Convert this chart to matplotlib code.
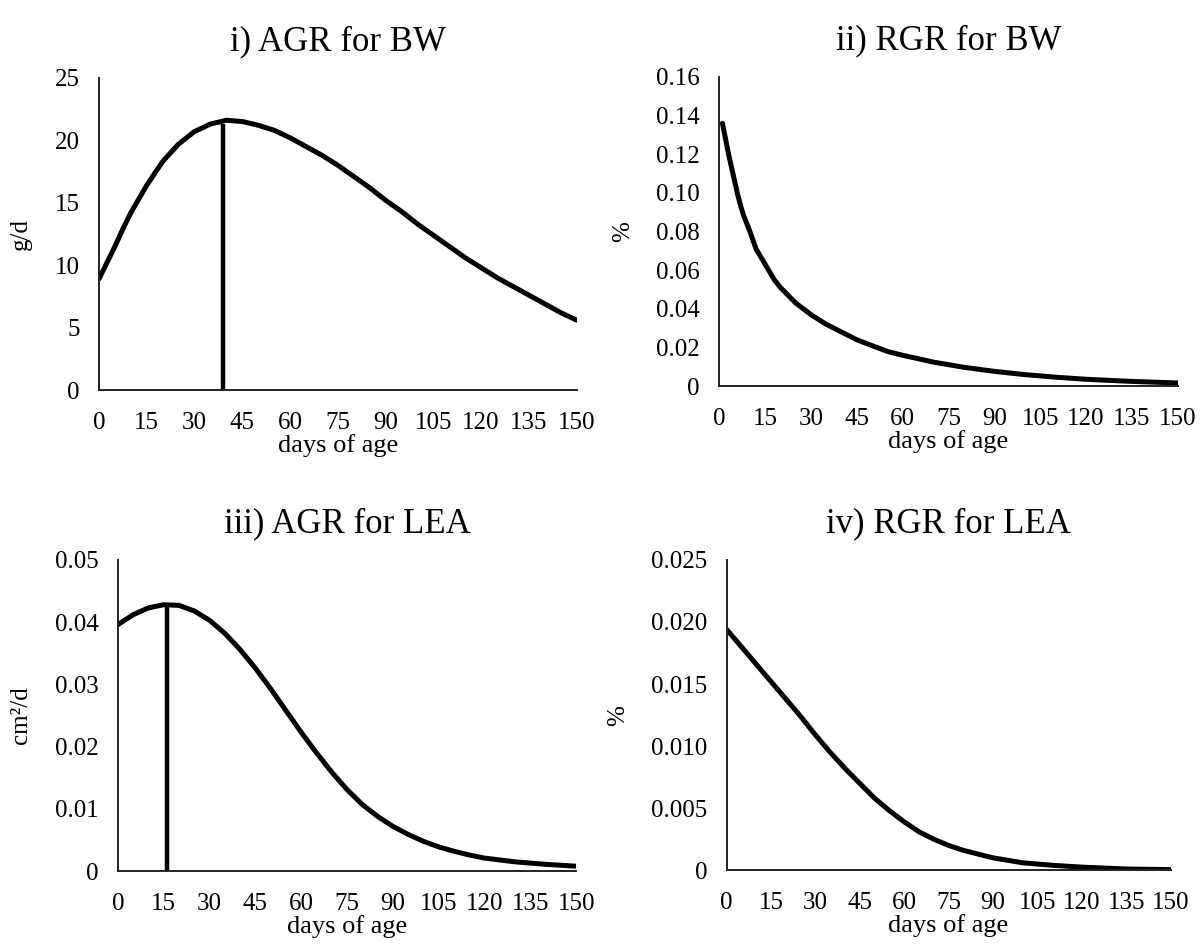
import matplotlib
matplotlib.use("Agg")
import matplotlib.pyplot as plt

plt.rcParams['font.family'] = ['Liberation Serif', 'DejaVu Serif']

# i) AGR for BW
days_agr_bw = [0, 2.5, 5, 7.5, 10, 12.5, 15, 20, 25, 30, 35, 40, 45, 50, 55, 60, 65, 70, 75, 80, 85, 90,
               95, 100, 105, 110, 115, 120, 125, 130, 135, 140, 145, 150]
agr_bw = [8.9, 10.2, 11.5, 12.9, 14.2, 15.3, 16.4, 18.3, 19.7, 20.7, 21.3, 21.6, 21.5, 21.2, 20.8, 20.2, 19.5,
          18.8, 18.0, 17.1, 16.2, 15.2, 14.3, 13.3, 12.4, 11.5, 10.6, 9.8, 9.0, 8.3, 7.6, 6.9, 6.2, 5.6]
peak_bw = (39, 21.3)

# ii) RGR for BW
days_rgr_bw = [1, 2, 3, 4, 5, 6, 7, 8, 10, 12, 15, 18, 20, 25, 30, 35, 40, 45, 50, 55, 60, 70, 80, 90,
               100, 110, 120, 135, 150]
rgr_bw = [0.136, 0.128, 0.120, 0.113, 0.106, 0.099, 0.093, 0.088, 0.080, 0.071, 0.063, 0.055, 0.051, 0.043,
          0.037, 0.032, 0.028, 0.024, 0.021, 0.018, 0.016, 0.0125, 0.0098, 0.0077, 0.0060, 0.0047, 0.0036,
          0.0025, 0.0017]

# iii) AGR for LEA
days_agr_lea = [0, 5, 10, 15, 20, 25, 30, 35, 40, 45, 50, 55, 60, 65, 70, 75, 80, 85, 90, 95, 100, 105,
                110, 115, 120, 130, 140, 150]
agr_lea = [0.0396, 0.0412, 0.0423, 0.0428, 0.0427, 0.0418, 0.0403, 0.0382, 0.0356, 0.0326, 0.0293, 0.0258,
           0.0223, 0.0190, 0.0159, 0.0131, 0.0107, 0.0088, 0.0072, 0.0059, 0.0048, 0.0039, 0.0032, 0.0026,
           0.0021, 0.0015, 0.0011, 0.0008]
peak_lea = (16, 0.0425)

# iv) RGR for LEA
days_rgr_lea = [0, 5, 10, 15, 20, 25, 30, 35, 40, 45, 50, 55, 60, 65, 70, 75, 80, 85, 90, 100, 110, 120,
                135, 150]
rgr_lea = [0.0194, 0.0180, 0.0166, 0.0152, 0.0138, 0.0124, 0.0109, 0.0095, 0.0082, 0.0070, 0.0058, 0.0048,
           0.0039, 0.0031, 0.0025, 0.0020, 0.0016, 0.0013, 0.0010, 0.0006, 0.0004, 0.00025, 0.0001, 0.00005]

xticks = [0, 15, 30, 45, 60, 75, 90, 105, 120, 135, 150]

panels = [
    dict(rect=[0.0823, 0.589, 0.397, 0.329], title='i) AGR for BW', ylabel='g/d',
         x=days_agr_bw, y=agr_bw, peak=peak_bw, ylim=25,
         yticks=[0, 5, 10, 15, 20, 25], ylabels=['0', '5', '10', '15', '20', '25']),
    dict(rect=[0.598, 0.593, 0.381, 0.326], title='ii) RGR for BW', ylabel='%',
         x=days_rgr_bw, y=rgr_bw, peak=None, ylim=0.16,
         yticks=[0, 0.02, 0.04, 0.06, 0.08, 0.10, 0.12, 0.14, 0.16],
         ylabels=['0', '0.02', '0.04', '0.06', '0.08', '0.10', '0.12', '0.14', '0.16']),
    dict(rect=[0.098, 0.082, 0.381, 0.328], title='iii) AGR for LEA', ylabel='cm²/d',
         x=days_agr_lea, y=agr_lea, peak=peak_lea, ylim=0.05,
         yticks=[0, 0.01, 0.02, 0.03, 0.04, 0.05], ylabels=['0', '0.01', '0.02', '0.03', '0.04', '0.05']),
    dict(rect=[0.604, 0.083, 0.369, 0.327], title='iv) RGR for LEA', ylabel='%',
         x=days_rgr_lea, y=rgr_lea, peak=None, ylim=0.025,
         yticks=[0, 0.005, 0.010, 0.015, 0.020, 0.025],
         ylabels=['0', '0.005', '0.010', '0.015', '0.020', '0.025']),
]

fig = plt.figure(figsize=(12.03, 9.49), dpi=100)

for p in panels:
    ax = fig.add_axes(p['rect'])
    ax.plot(p['x'], p['y'], color='black', linewidth=3.6, solid_capstyle='round', solid_joinstyle='round')
    if p['peak'] is not None:
        ax.vlines(p['peak'][0], 0, p['peak'][1], color='black', linewidth=3.2)
    ax.set_xlim(0, 150)
    ax.set_ylim(0, p['ylim'])
    ax.set_xticks(xticks)
    ax.set_xticklabels([str(t) for t in xticks], fontsize=18)
    ax.set_yticks(p['yticks'])
    ax.set_yticklabels(p['ylabels'], fontsize=18)
    ax.tick_params(axis='x', length=0, pad=16)
    ax.tick_params(axis='y', length=0, pad=14)
    for s in ['top', 'right']:
        ax.spines[s].set_visible(False)
    for s in ['left', 'bottom']:
        ax.spines[s].set_linewidth(1.4)
        ax.spines[s].set_color('#222222')
    ax.set_xlabel('days of age', fontsize=19, labelpad=0)
    ax.set_ylabel(p['ylabel'], fontsize=18, labelpad=16)
    ax.set_title(p['title'], fontsize=25, pad=20)

fig.savefig('out.png', dpi=100)
